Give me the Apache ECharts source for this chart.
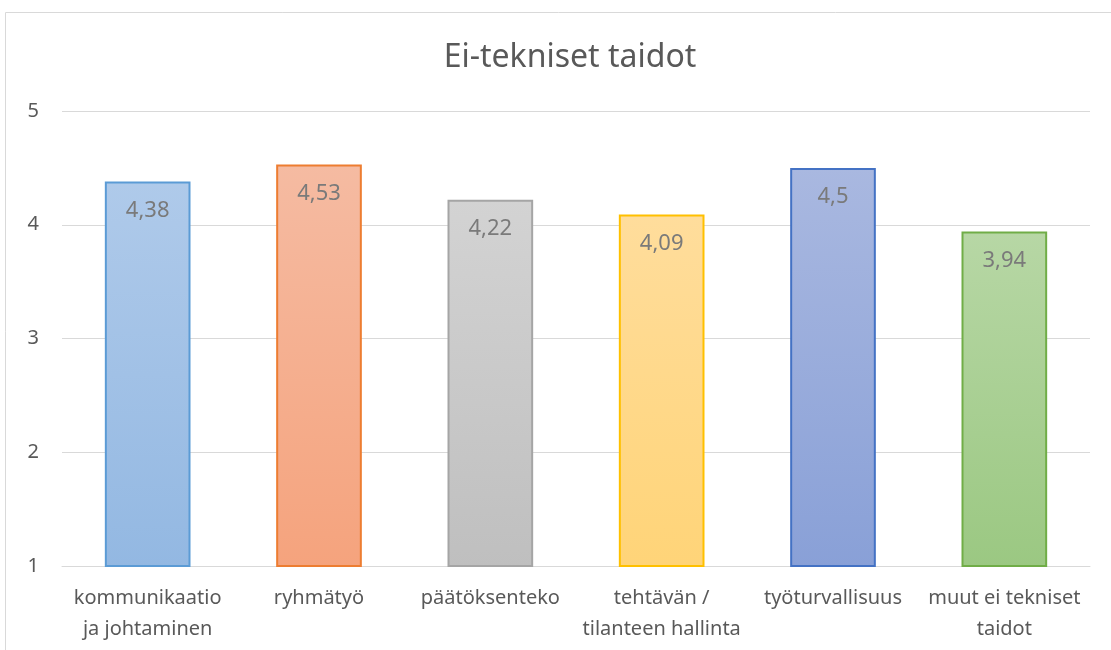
<!DOCTYPE html>
<html>
<head>
<meta charset="utf-8">
<script src="https://cdn.jsdelivr.net/npm/echarts@6/dist/echarts.min.js"></script>
<style>
  html, body { margin: 0; padding: 0; background: #fff; }
  #main { width: 1111px; height: 650px; }
</style>
</head>
<body>
<div id="main"></div>
<script>
// data
var categories = ['kommunikaatio\nja johtaminen', 'ryhmätyö', 'päätöksenteko', 'tehtävän /\ntilanteen hallinta', 'työturvallisuus', 'muut ei tekniset\ntaidot']
var values = [4.38, 4.53, 4.22, 4.09, 4.5, 3.94]
var yTicks = [1, 5, 1] // min, max, interval

// top color, bottom color, border
var barColors = [
  ['#afcaea', '#93b8e2', '#5b9bd5'],
  ['#f5bba2', '#f5a37d', '#ed7d31'],
  ['#d3d3d3', '#bfbfbf', '#a5a5a5'],
  ['#ffdd9c', '#ffd478', '#ffc000'],
  ['#a9b8e0', '#89a0d7', '#4472c4'],
  ['#b7d7a5', '#9bc882', '#70ad47']
]

var font = 'Noto Sans'
var myChart = echarts.init(document.getElementById('main'))

myChart.setOption({
  animation: false,
  title: {
    text: 'Ei-tekniset taidot',
    left: 565,
    textAlign: 'center',
    top: 37,
    textStyle: { color: '#595959', fontSize: 32, fontWeight: 'normal', fontFamily: font }
  },
  graphic: [{
    type: 'rect',
    shape: { x: 5.5, y: 12.5, width: 1200, height: 700 },
    style: { fill: 'none', stroke: '#d9d9d9', lineWidth: 1 },
    silent: true
  }],
  grid: { left: 62, right: 21, top: 111, bottom: 84 },
  xAxis: {
    type: 'category',
    data: categories,
    axisTick: { show: false },
    axisLine: { lineStyle: { color: '#d9d9d9', width: 1 } },
    axisLabel: {
      color: '#595959', fontSize: 20, fontFamily: font,
      margin: 17, lineHeight: 31, interval: 0
    }
  },
  yAxis: {
    type: 'value',
    min: yTicks[0],
    max: yTicks[1],
    interval: yTicks[2],
    axisLine: { show: false },
    axisTick: { show: false },
    splitLine: { lineStyle: { color: '#d9d9d9', width: 1 } },
    axisLabel: { color: '#595959', fontSize: 20, fontFamily: font, margin: 23 }
  },
  series: [{
    type: 'bar',
    barWidth: '50%',
    data: values.map(function (v, i) {
      var c = barColors[i]
      return {
        value: v,
        itemStyle: {
          color: new echarts.graphic.LinearGradient(0, 0, 0, 1, [
            { offset: 0, color: c[0] },
            { offset: 1, color: c[1] }
          ]),
          borderColor: c[2],
          borderWidth: 2
        }
      }
    }),
    label: {
      show: true,
      position: 'insideTop',
      distance: 18,
      color: '#7a7a7a',
      fontSize: 22,
      fontFamily: font,
      formatter: function (p) { return String(p.value).replace('.', ',') }
    }
  }]
})
</script>
</body>
</html>
